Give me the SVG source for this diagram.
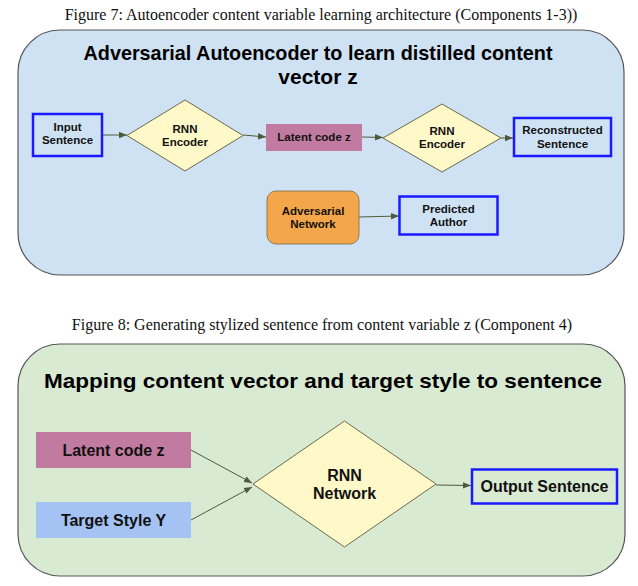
<svg xmlns="http://www.w3.org/2000/svg" width="638" height="586" viewBox="0 0 638 586">
<style>
.cap{font-family:"Liberation Serif",serif;font-size:16px;fill:#111;text-anchor:middle}
.title{font-family:"Liberation Sans",Arial,sans-serif;font-weight:bold;font-size:21px;fill:#000;text-anchor:middle}
.t1{font-family:"Liberation Sans",Arial,sans-serif;font-weight:bold;font-size:11.5px;fill:#111;text-anchor:middle}
.t2{font-family:"Liberation Sans",Arial,sans-serif;font-weight:bold;font-size:16px;fill:#111;text-anchor:middle}
.panel{stroke:#555;stroke-width:1.2}
.blue{fill:none;stroke:#1a1aff;stroke-width:2.5}
.dia{fill:#fff9c9;stroke:#6b6b4a;stroke-width:1}
.latent{fill:#c27ba0}
.conn{stroke:#4f5a3c;stroke-width:1;fill:none;marker-end:url(#ah)}
</style>
<defs>
<marker id="ah" viewBox="0 0 10 10" refX="10" refY="5" markerWidth="8" markerHeight="8" markerUnits="userSpaceOnUse" orient="auto">
<path d="M0,1 L10,5 L0,9 Z" fill="#4f5a3c"/>
</marker>
</defs>
<rect width="638" height="586" fill="#fff"/>
<text class="cap" x="321" y="20">Figure 7: Autoencoder content variable learning architecture (Components 1-3))</text>
<g id="panel1">
<rect class="panel" x="18" y="30" width="606" height="245" rx="42" fill="#cfe2f3"/>
<text class="title" x="318" y="60" textLength="469" lengthAdjust="spacingAndGlyphs">Adversarial Autoencoder to learn distilled content</text>
<text class="title" x="318" y="84">vector z</text>
</g>
<text class="cap" x="322" y="330">Figure 8: Generating stylized sentence from content variable z (Component 4)</text>
<g id="panel2">
<rect class="panel" x="18" y="344" width="607" height="232" rx="42" fill="#d9ead3"/>
<text class="title" x="323" y="387.5" font-size="22" textLength="558" lengthAdjust="spacingAndGlyphs">Mapping content vector and target style to sentence</text>
</g>
<g id="connectors">
<path class="conn" d="M102,135 L127,135"/>
<path class="conn" d="M243,135 L266,137"/>
<path class="conn" d="M362,137 L383,137.5"/>
<path class="conn" d="M501,138 L513,138"/>
<path class="conn" d="M359,217 L399,216"/>
<path class="conn" d="M191,450 L252,483"/>
<path class="conn" d="M191,520 L252,487"/>
<path class="conn" d="M436,485 L471,485.5"/>
</g>
<g id="input-sentence">
<rect class="blue" x="33" y="114" width="69" height="42"/>
<text class="t1" x="67.5" y="131">Input</text>
<text class="t1" x="67.5" y="144">Sentence</text>
</g>
<g id="rnn-encoder-1">
<polygon class="dia" points="185,100 243,135.5 185,171 127,135.5"/>
<text class="t1" x="185" y="133">RNN</text>
<text class="t1" x="185" y="146">Encoder</text>
</g>
<g id="latent-code-1">
<rect class="latent" x="266" y="124" width="96" height="27"/>
<text class="t1" x="314" y="141">Latent code z</text>
</g>
<g id="rnn-encoder-2">
<polygon class="dia" points="442,104 501,138 442,172 383,138"/>
<text class="t1" x="442" y="135">RNN</text>
<text class="t1" x="442" y="148">Encoder</text>
</g>
<g id="reconstructed-sentence">
<rect class="blue" x="514" y="118" width="97" height="38"/>
<text class="t1" x="562.5" y="134">Reconstructed</text>
<text class="t1" x="562.5" y="148">Sentence</text>
</g>
<g id="adversarial-network">
<rect x="267" y="191" width="92" height="53" rx="9" fill="#f4a64a" stroke="#7a6a4a" stroke-width="0.8"/>
<text class="t1" x="313" y="215">Adversarial</text>
<text class="t1" x="313" y="228">Network</text>
</g>
<g id="predicted-author">
<rect class="blue" x="399.5" y="196.5" width="98" height="38"/>
<text class="t1" x="448.5" y="213">Predicted</text>
<text class="t1" x="448.5" y="226">Author</text>
</g>
<g id="latent-code-2">
<rect class="latent" x="36" y="432" width="155" height="36"/>
<text class="t2" x="113.5" y="455.5">Latent code z</text>
</g>
<g id="target-style">
<rect x="36" y="502" width="155" height="36" fill="#a4c2f4"/>
<text class="t2" x="113.5" y="525.5">Target Style Y</text>
</g>
<g id="rnn-network">
<polygon class="dia" points="344.5,421 436,484 344.5,547 253,484"/>
<text class="t2" x="344.5" y="481">RNN</text>
<text class="t2" x="344.5" y="499">Network</text>
</g>
<g id="output-sentence">
<rect class="blue" x="472" y="469.5" width="145" height="34"/>
<text class="t2" x="544.5" y="492">Output Sentence</text>
</g>
</svg>
